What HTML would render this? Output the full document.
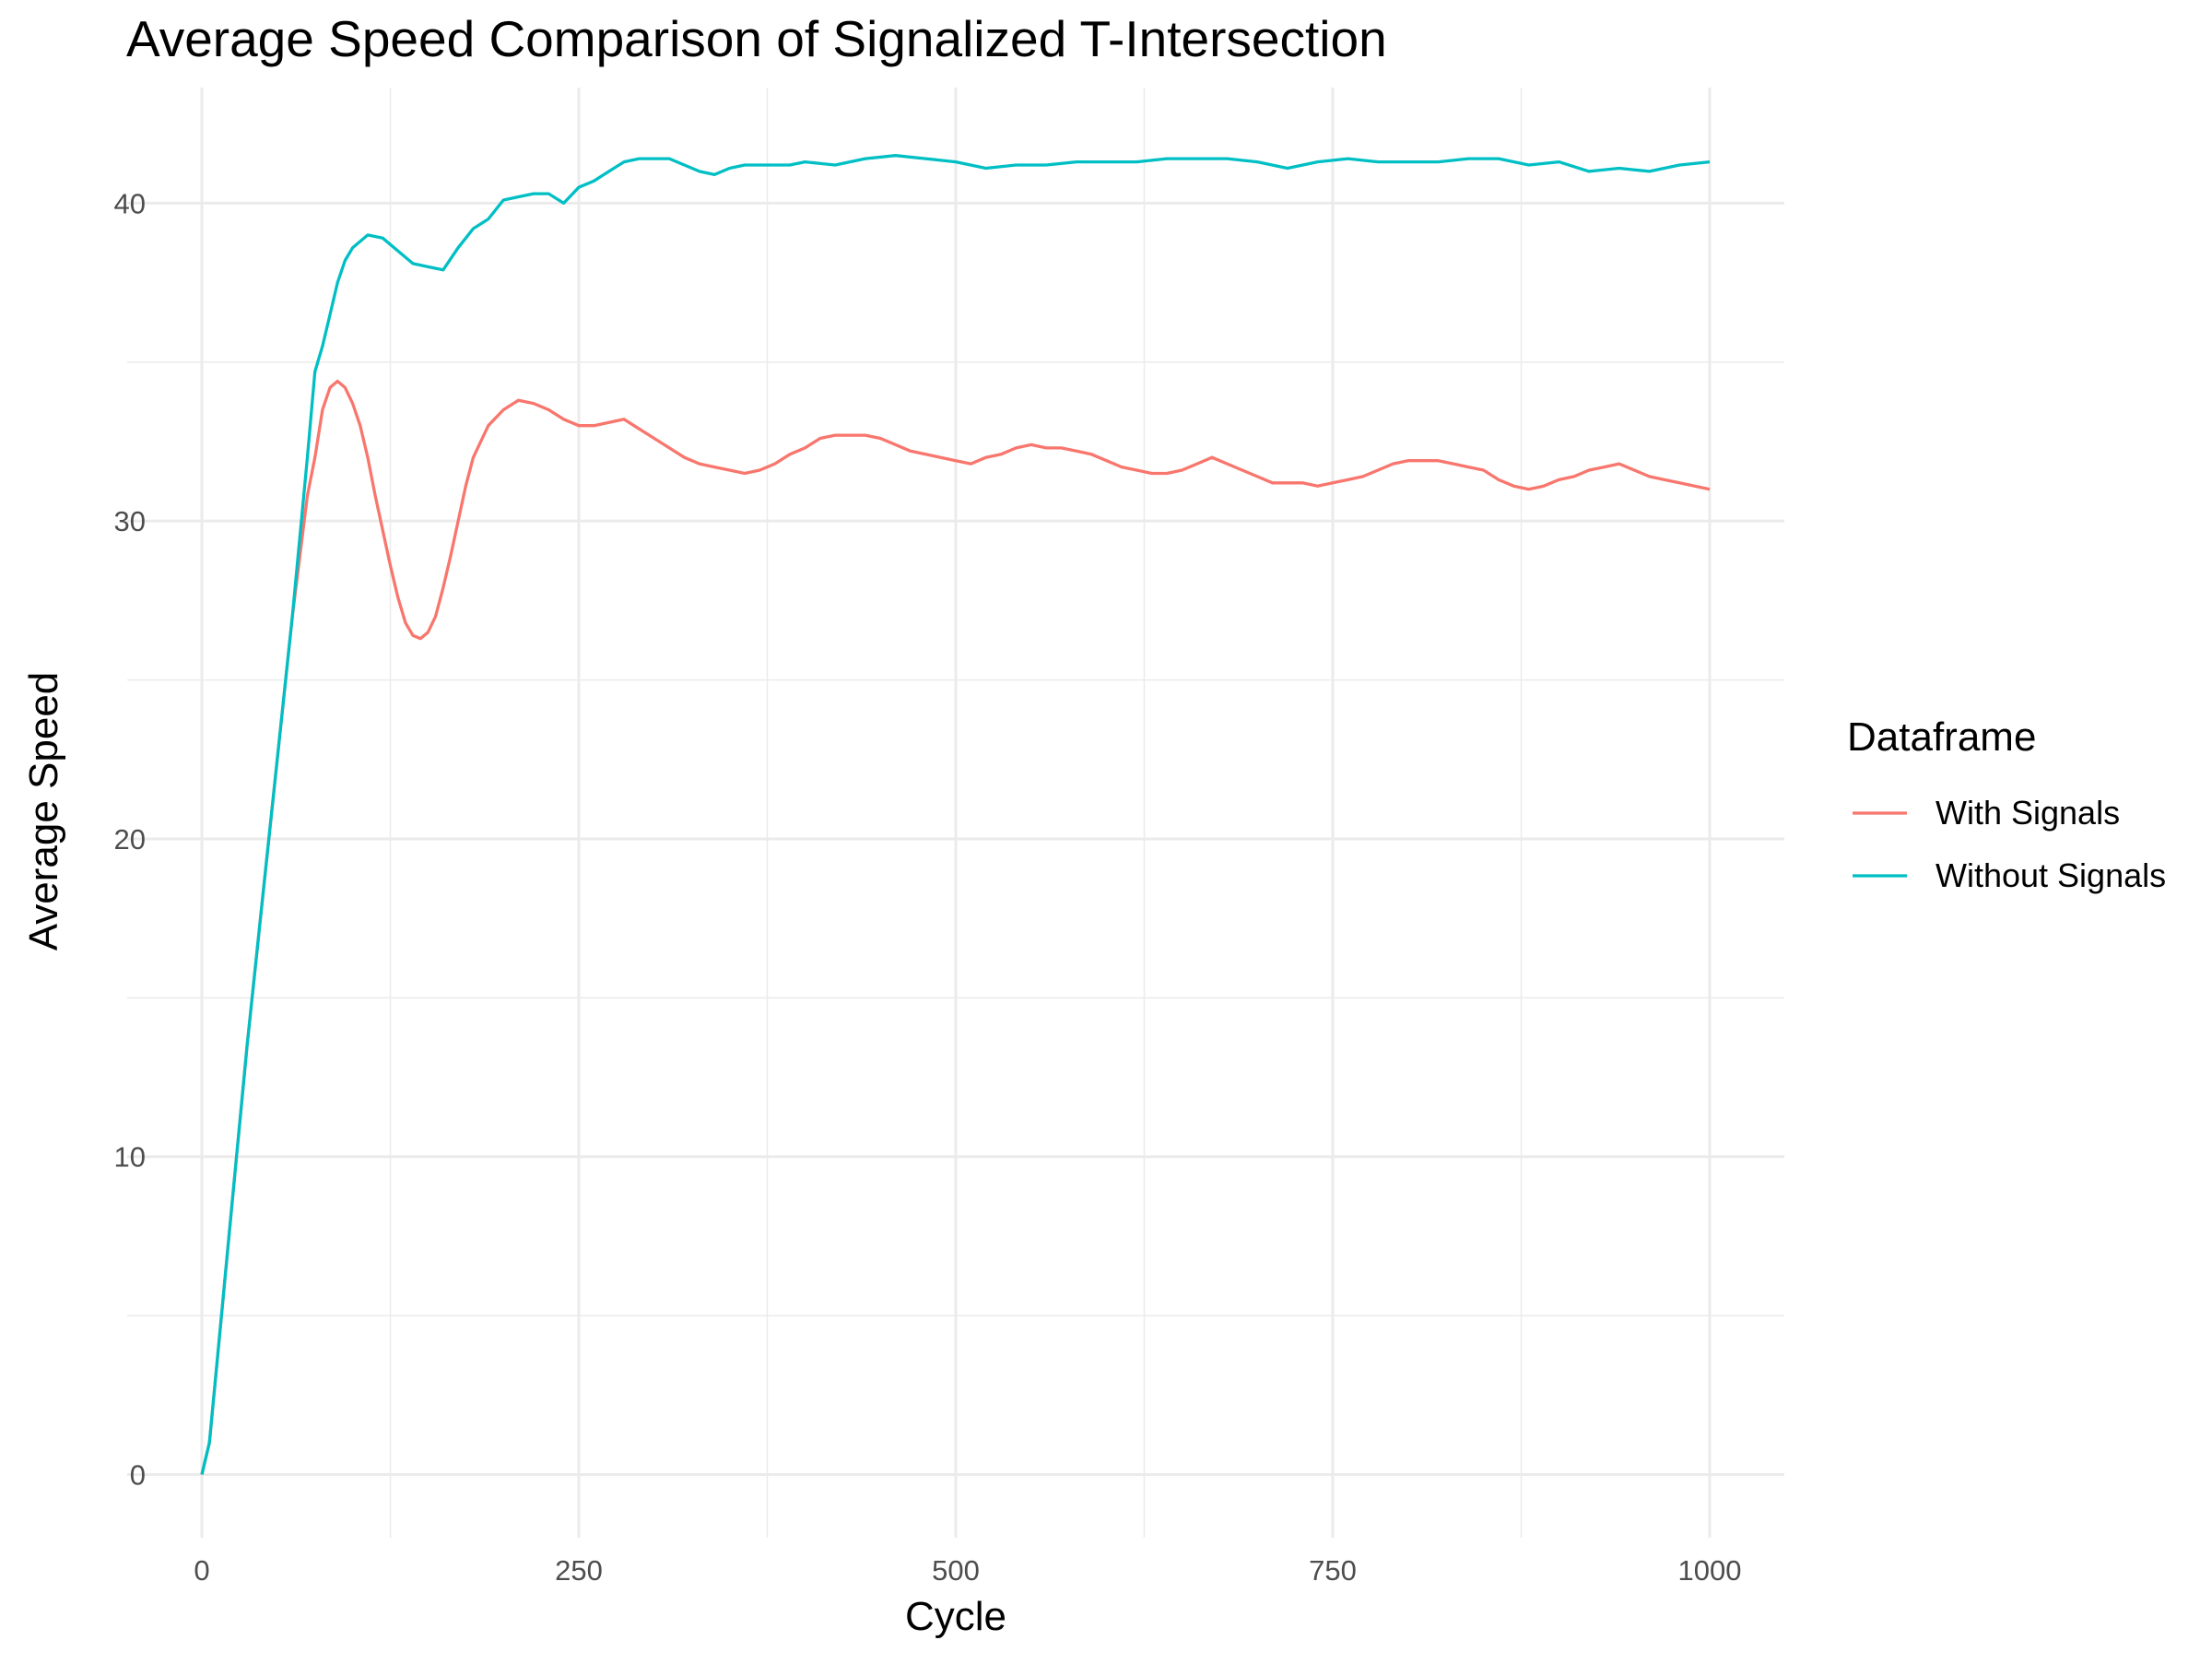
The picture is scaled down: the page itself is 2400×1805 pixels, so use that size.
<!DOCTYPE html>
<html><head><meta charset="utf-8"><style>
html,body{margin:0;padding:0;background:#fff}
svg text{font-family:"Liberation Sans",Arial,sans-serif}
</style></head><body>
<svg id="chart" width="2400" height="1800" viewBox="0 0 2400 1800" xmlns="http://www.w3.org/2000/svg">
<rect width="2400" height="1800" fill="#fff"/>
<g id="grid"></g>
<g id="series"></g>
<g id="ticks"></g>
<text x="137" y="61" font-size="55" fill="#000">Average Speed Comparison of Signalized T-Intersection</text>
<text x="1037" y="1768" font-size="44" text-anchor="middle" fill="#000">Cycle</text>
<text transform="translate(62,880) rotate(-90)" font-size="44" text-anchor="middle" fill="#000">Average Speed</text>
<g>
<text x="2004" y="814" font-size="44" fill="#000">Dataframe</text>
<line x1="2010" y1="882" x2="2069" y2="882" stroke="#F8766D" stroke-width="3.3"/>
<text x="2100" y="894" font-size="36" fill="#000">With Signals</text>
<line x1="2010" y1="950" x2="2069" y2="950" stroke="#00BFC4" stroke-width="3.3"/>
<text x="2100" y="962" font-size="36" fill="#000">Without Signals</text>
</g>
</svg>
<script>
const xTicks=[0,250,500,750,1000];
const yTicks=[0,10,20,30,40];
const cyanCycles=[0,5,10,20,30,40,50,60,70,75,80,85,90,95,100,110,120,130,140,150,160,170,180,190,200,210,220,230,240,250,260,270,280,290,300,310,320,330,340,350,360,370,380,390,400,420,440,460,480,500,520,540,560,580,600,620,640,660,680,700,720,740,760,780,800,820,840,860,880,900,920,940,960,980,1000];
const cyanValues=[0,1,3.5,8.5,13.5,18,22.5,27,32,34.7,35.5,36.5,37.5,38.2,38.6,39,38.9,38.5,38.1,38,37.9,38.6,39.2,39.5,40.1,40.2,40.3,40.3,40,40.5,40.7,41,41.3,41.4,41.4,41.4,41.2,41,40.9,41.1,41.2,41.2,41.2,41.2,41.3,41.2,41.4,41.5,41.4,41.3,41.1,41.2,41.2,41.3,41.3,41.3,41.4,41.4,41.4,41.3,41.1,41.3,41.4,41.3,41.3,41.3,41.4,41.4,41.2,41.3,41,41.1,41,41.2,41.3];
const redCycles=[0,5,10,20,30,40,50,60,70,75,80,85,90,95,100,105,110,115,120,125,130,135,140,145,150,155,160,165,170,175,180,190,200,210,220,230,240,250,260,270,280,290,300,310,320,330,340,350,360,370,380,390,400,410,420,430,440,450,460,470,480,490,500,510,520,530,540,550,560,570,580,590,600,610,620,630,640,650,660,670,680,690,700,710,720,730,740,750,760,770,780,790,800,810,820,830,840,850,860,870,880,890,900,910,920,930,940,950,960,970,980,990,1000];
const redValues=[0,1,3.5,8.5,13.5,18,22.5,27,30.8,32,33.5,34.2,34.4,34.2,33.7,33,32,30.8,29.7,28.6,27.6,26.8,26.4,26.3,26.5,27,27.9,28.9,30,31.1,32,33,33.5,33.8,33.7,33.5,33.2,33,33,33.1,33.2,32.9,32.6,32.3,32,31.8,31.7,31.6,31.5,31.6,31.8,32.1,32.3,32.6,32.7,32.7,32.7,32.6,32.4,32.2,32.1,32,31.9,31.8,32,32.1,32.3,32.4,32.3,32.3,32.2,32.1,31.9,31.7,31.6,31.5,31.5,31.6,31.8,32,31.8,31.6,31.4,31.2,31.2,31.2,31.1,31.2,31.3,31.4,31.6,31.8,31.9,31.9,31.9,31.8,31.7,31.6,31.3,31.1,31,31.1,31.3,31.4,31.6,31.7,31.8,31.6,31.4,31.3,31.2,31.1,31];
const NS="http://www.w3.org/2000/svg";
const X0=219,X1=1855,Y0=1599.5,Y40=220.4,L=138,R=1936,T=95,B=1668;
function sx(v){return X0+(X1-X0)*v/1000;}
function sy(v){return Y0+(Y40-Y0)*v/40;}
const grid=document.getElementById('grid'),ticks=document.getElementById('ticks'),ser=document.getElementById('series');
function line(p,x1,y1,x2,y2,w,c,name){const l=document.createElementNS(NS,'line');l.setAttribute('x1',x1);l.setAttribute('y1',y1);l.setAttribute('x2',x2);l.setAttribute('y2',y2);l.setAttribute('stroke',c);l.setAttribute('stroke-width',w);


p.appendChild(l);}
for(let i=0;i<yTicks.length-1;i++){const m=(yTicks[i]+yTicks[i+1])/2;line(grid,L,sy(m),R,sy(m),1.5,'#ebebeb','y-minor-gridline');}
for(let i=0;i<xTicks.length-1;i++){const m=(xTicks[i]+xTicks[i+1])/2;line(grid,sx(m),T,sx(m),B,1.5,'#ebebeb','x-minor-gridline');}
yTicks.forEach(v=>{line(grid,L,sy(v),R,sy(v),3,'#ebebeb','y-major-gridline');
const t=document.createElementNS(NS,'text');t.setAttribute('x',158);t.setAttribute('y',sy(v)+11);t.setAttribute('text-anchor','end');t.setAttribute('font-size','31');t.setAttribute('fill','#4d4d4d');t.textContent=v;


ticks.appendChild(t);});
xTicks.forEach(v=>{line(grid,sx(v),T,sx(v),B,3,'#ebebeb','x-major-gridline');
const t=document.createElementNS(NS,'text');t.setAttribute('x',sx(v));t.setAttribute('y',1714);t.setAttribute('text-anchor','middle');t.setAttribute('font-size','31');t.setAttribute('fill','#4d4d4d');t.textContent=v;


ticks.appendChild(t);});
function path(xs,ys,c,name){const p=document.createElementNS(NS,'path');p.setAttribute('d',xs.map((x,i)=>(i?'L':'M')+sx(x).toFixed(1)+','+sy(ys[i]).toFixed(1)).join(''));p.setAttribute('fill','none');p.setAttribute('stroke',c);p.setAttribute('stroke-width','3.3');p.setAttribute('stroke-linejoin','round');


ser.appendChild(p);}
path(redCycles,redValues,'#F8766D','line-with-signals');
path(cyanCycles,cyanValues,'#00BFC4','line-without-signals');
</script>
</body></html>
